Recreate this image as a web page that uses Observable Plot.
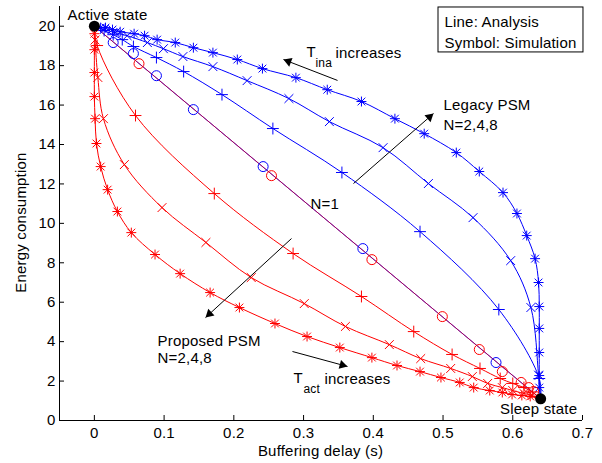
<!DOCTYPE html>
<html><head><meta charset="utf-8">
<script src="https://cdn.jsdelivr.net/npm/d3@7"></script>
<script src="https://cdn.jsdelivr.net/npm/@observablehq/plot@0.6"></script>
<style>body{margin:0;background:#fff}#chart{width:602px;height:463px}</style>
</head><body><div id="chart"></div>
<script>
// ---- data (buffering delay [s], energy consumption) ----
const activeState = [0, 20];
const sleepState = [0.64, 1.1];

// Legacy PSM (blue), simulation symbols
const legacyN1 = [[0.027,19.17],[0.056,18.61],[0.089,17.49],[0.142,15.77],[0.242,12.88],[0.385,8.72],[0.576,2.94]];
const legacyN2 = [[0.014,19.78],[0.027,19.57],[0.040,19.32],[0.056,18.97],[0.089,18.41],[0.128,17.70],[0.183,16.53],[0.256,14.81],[0.355,12.58],[0.467,9.58],[0.580,5.63],[0.638,2.13]];
const legacyN4 = [[0.014,19.83],[0.030,19.67],[0.047,19.52],[0.076,19.17],[0.099,18.86],[0.127,18.46],[0.170,17.95],[0.219,17.24],[0.279,16.33],[0.337,15.16],[0.414,13.84],[0.479,12.02],[0.543,10.29],[0.597,8.11],[0.626,5.73],[0.637,2.3]];
const legacyN8 = [[0.009,19.93],[0.016,19.93],[0.026,19.83],[0.037,19.72],[0.057,19.62],[0.072,19.52],[0.090,19.32],[0.116,19.17],[0.142,18.91],[0.170,18.66],[0.205,18.31],[0.241,17.85],[0.289,17.39],[0.334,16.78],[0.383,16.18],[0.431,15.31],[0.473,14.55],[0.519,13.59],[0.552,12.63],[0.586,11.56],[0.606,10.50],[0.620,9.38],[0.632,8.21],[0.637,7.00],[0.638,5.78],[0.638,4.67],[0.638,3.45],[0.638,2.28],[0.638,1.67]];

// Proposed PSM (red), simulation symbols
const proposedN1 = [[0.064,18.10],[0.254,12.42],[0.398,8.16],[0.499,5.27],[0.552,3.60],[0.585,2.48],[0.612,1.93],[0.623,1.67],[0.630,1.47]];
const proposedN2 = [[0.004,19.02],[0.059,15.47],[0.172,11.51],[0.285,8.47],[0.383,6.29],[0.458,4.51],[0.513,3.35],[0.553,2.64],[0.582,2.13],[0.600,1.88],[0.616,1.67],[0.628,1.45]];
const proposedN4 = [[0.001,19.3],[0.005,17.4],[0.013,15.31],[0.043,12.98],[0.097,10.80],[0.160,9.03],[0.225,7.25],[0.301,5.93],[0.360,4.77],[0.423,3.85],[0.468,3.14],[0.511,2.64],[0.542,2.23],[0.564,1.88],[0.585,1.67],[0.600,1.52],[0.616,1.37],[0.628,1.27]];
const proposedN8 = [[0.000,19.62],[0.000,18.81],[0.000,17.65],[0.000,16.43],[0.001,15.31],[0.003,14.05],[0.009,12.88],[0.019,11.71],[0.033,10.60],[0.053,9.53],[0.087,8.42],[0.123,7.45],[0.166,6.49],[0.208,5.73],[0.259,4.92],[0.305,4.26],[0.352,3.70],[0.398,3.19],[0.434,2.79],[0.467,2.48],[0.497,2.18],[0.524,1.93],[0.544,1.67],[0.567,1.52],[0.585,1.42],[0.599,1.32],[0.613,1.27],[0.625,1.22]];

const xTicks = [0, 0.1, 0.2, 0.3, 0.4, 0.5, 0.6, 0.7];
const yTicks = [0, 2, 4, 6, 8, 10, 12, 14, 16, 18, 20];

// ---- annotations (placed in data coordinates) ----
const labels = [
  {text: "Active state", x: -0.0385, y: 20.54, size: 15},
  {text: "Line: Analysis", x: 0.5021, y: 20.19, size: 15},
  {text: "Symbol: Simulation", x: 0.5021, y: 19.12, size: 15},
  {text: "T", x: 0.3042, y: 18.67, size: 15},
  {text: "ina", x: 0.3171, y: 18.14, size: 12},
  {text: "increases", x: 0.3458, y: 18.62, size: 15},
  {text: "Legacy PSM", x: 0.5007, y: 15.98, size: 15},
  {text: "N=2,4,8", x: 0.5007, y: 14.96, size: 15},
  {text: "N=1", x: 0.3099, y: 10.99, size: 15},
  {text: "Proposed PSM", x: 0.0905, y: 4.01, size: 15},
  {text: "N=2,4,8", x: 0.0905, y: 3.14, size: 15},
  {text: "T", x: 0.2856, y: 2.13, size: 15},
  {text: "act", x: 0.2999, y: 1.60, size: 12},
  {text: "increases", x: 0.3300, y: 2.08, size: 15}
];
const centeredLabels = [
  {text: "Sleep state", x: 0.637, y: 0.56, size: 15}
];
const arrows = [
  {x1: 0.3487, y1: 17.25, x2: 0.2712, y2: 18.31},
  {x1: 0.3716, y1: 12.02, x2: 0.4863, y2: 15.57},
  {x1: 0.2827, y1: 9.23, x2: 0.1594, y2: 5.22},
  {x1: 0.2841, y1: 3.50, x2: 0.3630, y2: 2.74}
];
const legendBox = [{x1: 0.4935, x2: 0.7014, y1: 18.67, y2: 20.95}];

// ---- layout ----
const W = 602, H = 463, mT = 6, mR = 20, mB = 43, mL = 59;
const xDomain = [-0.05, 0.7], yDomain = [0, 21];
const kx = (W - mL - mR) / (xDomain[1] - xDomain[0]);
const ky = (H - mT - mB) / (yDomain[1] - yDomain[0]);

// filled arrow heads: direction in screen space, centred a bit behind the tip
const HEAD_R = 3.4;
const apex = 2 * Math.sqrt(Math.PI * HEAD_R * HEAD_R / (3 * Math.sqrt(3)));
const heads = arrows.map(a => {
  const dx = (a.x2 - a.x1) * kx, dy = -(a.y2 - a.y1) * ky;
  const len = Math.hypot(dx, dy), ux = dx / len, uy = dy / len;
  return {
    x: a.x2 - ux * apex / kx,
    y: a.y2 + uy * apex / ky,
    angle: Math.atan2(ux, -uy) * 180 / Math.PI
  };
});

// ---- build ----
const BLUE = "#0000ff", RED = "#ff0000";
const rows = arr => arr.map(([x, y]) => ({x, y}));
const lineRows = arr => rows([activeState, ...arr, sleepState]);

function symbols(arr, kind, color) {
  const d = rows(arr);
  const base = {x: "x", y: "y", stroke: color, fill: "none", strokeWidth: 1};
  if (kind === "circle") return [Plot.dot(d, {...base, r: 5})];
  if (kind === "plus") return [Plot.dot(d, {...base, symbol: "plus", r: 3.9})];
  if (kind === "times") return [Plot.dot(d, {...base, symbol: "times", r: 4.1})];
  return [Plot.dot(d, {...base, symbol: "plus", r: 3.3}), Plot.dot(d, {...base, symbol: "times", r: 3.6})];
}
function curve(arr, color) {
  return Plot.line(lineRows(arr), {x: "x", y: "y", stroke: color, strokeWidth: 1, curve: "catmull-rom"});
}

const chart = Plot.plot({
  width: W, height: H,
  marginTop: mT, marginRight: mR, marginBottom: mB, marginLeft: mL,
  style: {fontFamily: "'Liberation Sans', Arial, sans-serif", fontSize: "15px", letterSpacing: "0.2px", background: "white", color: "black"},
  x: {domain: xDomain, ticks: xTicks, tickFormat: d => String(+d.toFixed(1)), tickSize: 0, tickPadding: 7, label: null},
  y: {domain: yDomain, ticks: yTicks, tickSize: 0, tickPadding: 4, label: null},
  marks: [
    Plot.ruleX([xDomain[0]], {stroke: "black"}),
    Plot.ruleY([0], {stroke: "black"}),
    Plot.ruleX(xTicks, {stroke: "black", insetTop: H - mT - mB - 5}),
    Plot.ruleY(yTicks, {stroke: "black", insetRight: W - mL - mR - 5}),
    // analysis lines
    Plot.line(rows([activeState, sleepState]), {x: "x", y: "y", stroke: BLUE, strokeWidth: 1}),
    curve(legacyN2, BLUE), curve(legacyN4, BLUE), curve(legacyN8, BLUE),
    curve(proposedN2, RED), curve(proposedN4, RED), curve(proposedN8, RED),
    Plot.line(rows([activeState, sleepState]), {x: "x", y: "y", stroke: RED, strokeOpacity: 0.65, strokeWidth: 1}),
    // simulation symbols
    ...symbols(legacyN1, "circle", BLUE), ...symbols(legacyN2, "plus", BLUE),
    ...symbols(legacyN4, "times", BLUE), ...symbols(legacyN8, "asterisk", BLUE),
    ...symbols(proposedN1, "circle", RED), ...symbols(proposedN2, "plus", RED),
    ...symbols(proposedN4, "times", RED), ...symbols(proposedN8, "asterisk", RED),
    // states
    Plot.dot(rows([activeState, sleepState]), {x: "x", y: "y", r: 5.5, fill: "black"}),
    // annotations
    Plot.rect(legendBox, {x1: "x1", x2: "x2", y1: "y1", y2: "y2", stroke: "black", fill: "white"}),
    Plot.text(labels, {x: "x", y: "y", text: "text", textAnchor: "start", fontSize: d => d.size, lineAnchor: "middle", fill: "black"}),
    Plot.text(centeredLabels, {x: "x", y: "y", text: "text", textAnchor: "middle", fontSize: d => d.size, lineAnchor: "middle", fill: "black"}),
    Plot.link(arrows, {x1: "x1", y1: "y1", x2: "x2", y2: "y2", stroke: "black", strokeWidth: 1}),
    Plot.dot(heads, {x: "x", y: "y", symbol: "triangle", r: HEAD_R, rotate: "angle", fill: "black", stroke: "none"}),
    Plot.text(["Buffering delay (s)"], {x: 0.3243, y: -1.55, text: d => d, textAnchor: "middle", lineAnchor: "middle", fontSize: 15}),
    Plot.text(["Energy consumption"], {x: -0.1045, y: 10.04, text: d => d, rotate: -90, textAnchor: "middle", lineAnchor: "middle", fontSize: 15})
  ]
});
document.getElementById("chart").appendChild(chart);
</script>
</body></html>
